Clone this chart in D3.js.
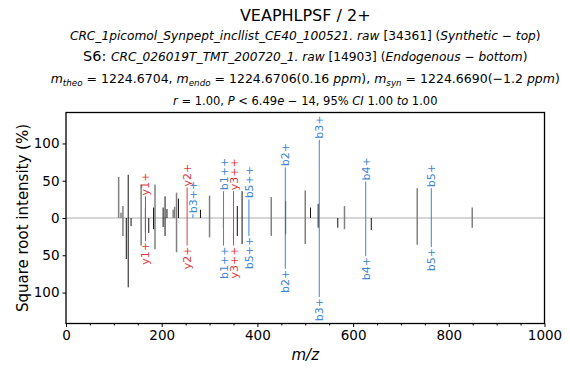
<!DOCTYPE html>
<html>
<head>
<meta charset="utf-8">
<script src="https://cdn.jsdelivr.net/npm/d3@7"></script>
<style>
  body { margin: 0; background: #fff; }
  svg { font-family: "DejaVu Sans", sans-serif; }
</style>
</head>
<body>
<svg id="chart" width="570" height="369"></svg>
<script>
// peaks seen in both spectra, drawn grey (top = synthetic, bottom = endogenous)
const greyMz     = [110, 115, 119, 157, 186, 224, 227, 231, 300, 429, 500, 582, 734, 849];
const greyTop    = [55, 7, 16, 45, 45, 11, 15, 34, 30, 28, 37, 16, 40, 14];
const greyBottom = [0, 0, 24, 37, 42, 0, 0, 46, 26, 24, 35, 15, 36, 13];

// thinner black peaks
const blackMz     = [126, 130, 136, 166, 173, 183, 203, 207, 211, 235, 281, 329, 358, 368, 459, 511, 527, 568, 638];
const blackTop    = [0, 58, 0, 14, 0, 14, 14, 29, 12, 26, 11, 0, 16, 36, 23, 14, 19, 0, 0];
const blackBottom = [55, 93, 11, 19, 20, 15, 12, 24, 0, 0, 0, 13, 24, 35, 22, 0, 13, 13, 16];

// annotated fragment ions
const ionLabels = ["y1+", "y2+", "b3++", "b1++", "y3++", "b5++", "b2+", "b3+", "b4+", "b5+"];
const ionSeries = ["y", "y", "b", "b", "y", "b", "b", "b", "b", "b"];
const ionMz     = [166.09, 253.12, 265.16, 329.24, 350.17, 382.22, 458.28, 529.32, 626.37, 763.43];
const ionTop    = [29, 41, 5, 36, 36, 25, 68, 105, 49, 40];
const ionBottom = [31, 37, 0, 37, 37, 24, 68, 106, 51, 39];

const xTicks = [0, 200, 400, 600, 800, 1000];
const yTicks = [-100, -50, 0, 50, 100];

const svg = d3.select("#chart");
const x = d3.scaleLinear().domain([0, 1000]).range([66, 544.5]);
const y = d3.scaleLinear().domain([-141.5, 141.5]).range([323.5, 112.5]);
const seriesColor = { b: "#3b84d4", y: "#dd3b3b" };

// zero line
svg.append("line")
  .attr("x1", x(0)).attr("x2", x(1000))
  .attr("y1", y(0)).attr("y2", y(0))
  .attr("stroke", "#c8c8c8").attr("stroke-width", 1.5);

// grey peaks
const greyG = svg.append("g").attr("stroke", "#808080").attr("stroke-width", 1.5);
greyMz.forEach((mz, i) => {
  greyG.append("line")
    .attr("x1", x(mz)).attr("x2", x(mz))
    .attr("y1", y(greyTop[i])).attr("y2", y(-greyBottom[i]));
});

// black peaks
const blackG = svg.append("g").attr("stroke", "#111").attr("stroke-width", 1);
blackMz.forEach((mz, i) => {
  blackG.append("line")
    .attr("x1", x(mz)).attr("x2", x(mz))
    .attr("y1", y(blackTop[i])).attr("y2", y(-blackBottom[i]));
});

// annotated ions with rotated labels at both ends
const ionG = svg.append("g");
ionMz.forEach((mz, i) => {
  const c = seriesColor[ionSeries[i]];
  const px = x(mz);
  ionG.append("line")
    .attr("x1", px).attr("x2", px)
    .attr("y1", y(ionTop[i])).attr("y2", y(-ionBottom[i]))
    .attr("stroke", c).attr("stroke-width", 1);

  ionG.append("text")
    .attr("transform", `translate(${px + 4},${y(ionTop[i]) - 1}) rotate(-90)`)
    .attr("text-anchor", "start")
    .attr("font-size", 11)
    .attr("fill", c)
    .text(ionLabels[i]);

  if (ionBottom[i] > 0) {
    ionG.append("text")
      .attr("transform", `translate(${px + 4},${y(-ionBottom[i]) + 1}) rotate(-90)`)
      .attr("text-anchor", "end")
      .attr("font-size", 11)
      .attr("fill", c)
      .text(ionLabels[i]);
  }
});

// axes
const xAxis = svg.append("g")
  .attr("transform", `translate(0,${y.range()[0]})`)
  .call(d3.axisBottom(x).tickValues(xTicks).tickSize(3.5).tickPadding(3).tickFormat(d3.format("d")));
svg.append("g")
  .attr("transform", `translate(0,${y.range()[0]})`)
  .call(d3.axisBottom(x).tickValues(d3.range(50, 1000, 50).filter(v => v % 200)).tickSize(2).tickFormat(""))
  .call(g => g.select(".domain").remove());
const yAxis = svg.append("g")
  .attr("transform", `translate(${x.range()[0]},0)`)
  .call(d3.axisLeft(y).tickValues(yTicks).tickSize(3.5).tickPadding(3).tickFormat(d => Math.abs(d)));

[xAxis, yAxis].forEach(g => {
  g.select(".domain").remove();
  g.selectAll("text").attr("font-size", 13.5).attr("font-family", "DejaVu Sans").attr("fill", "#000");
  g.selectAll("line").attr("stroke", "#000");
});
svg.selectAll(".tick line").attr("stroke", "#000").attr("stroke-width", 1);

// frame
svg.append("rect")
  .attr("x", x.range()[0]).attr("y", y.range()[1])
  .attr("width", x.range()[1] - x.range()[0])
  .attr("height", y.range()[0] - y.range()[1])
  .attr("fill", "none").attr("stroke", "#000").attr("stroke-width", 1.3);

// axis labels
svg.append("text")
  .attr("transform", `translate(28,${(y.range()[0] + y.range()[1]) / 2}) rotate(-90)`)
  .attr("text-anchor", "middle").attr("font-size", 15)
  .text("Square root intensity (%)");
svg.append("text")
  .attr("x", (x.range()[0] + x.range()[1]) / 2).attr("y", 360)
  .attr("text-anchor", "middle").attr("font-size", 15).attr("font-style", "italic")
  .text("m/z");

// titles
const cx = (x.range()[0] + x.range()[1]) / 2;
svg.append("text").attr("x", cx).attr("y", 21)
  .attr("text-anchor", "middle").attr("font-size", 16)
  .text("VEAPHLPSF / 2+");

function richLine(yPos, parts, size) {
  const t = svg.append("text").attr("x", cx).attr("y", yPos)
    .attr("text-anchor", "middle").attr("font-size", size);
  parts.forEach(p => {
    const s = t.append("tspan").text(p.t);
    if (p.i) s.attr("font-style", "italic");
    if (p.sub) s.attr("font-size", size * 0.7).attr("dy", 2.5);
    if (p.up) s.attr("dy", -2.5);
    if (p.fs) s.attr("font-size", p.fs).attr("font-style", "normal");
  });
  return t;
}

richLine(40, [
  { t: "CRC_1picomol_Synpept_incllist_CE40_100521. raw", i: true },
  { t: " [34361] (" },
  { t: "Synthetic", i: true },
  { t: "  \u2212  " },
  { t: "top", i: true },
  { t: ")" }
], 12.2);

richLine(61, [
  { t: "S6: ", fs: 14.5 },
  { t: "CRC_026019T_TMT_200720_1. raw", i: true },
  { t: " [14903] (" },
  { t: "Endogenous", i: true },
  { t: "  \u2212  " },
  { t: "bottom", i: true },
  { t: ")" }
], 12.2);

richLine(83, [
  { t: "m", i: true }, { t: "theo", i: true, sub: true }, { t: " = 1224.6704, ", up: true },
  { t: "m", i: true }, { t: "endo", i: true, sub: true }, { t: " = 1224.6706(0.16 ", up: true },
  { t: "ppm", i: true }, { t: "), " },
  { t: "m", i: true }, { t: "syn", i: true, sub: true }, { t: " = 1224.6690(\u22121.2 ", up: true },
  { t: "ppm", i: true }, { t: ")" }
], 12.5);

richLine(105, [
  { t: "r", i: true }, { t: " = 1.00,  " },
  { t: "P", i: true }, { t: " < 6.49" }, { t: "e", i: true }, { t: " \u2212 14,  95% " },
  { t: "CI", i: true }, { t: " 1.00 " }, { t: "to", i: true }, { t: " 1.00" }
], 11.5);
</script>
</body>
</html>
